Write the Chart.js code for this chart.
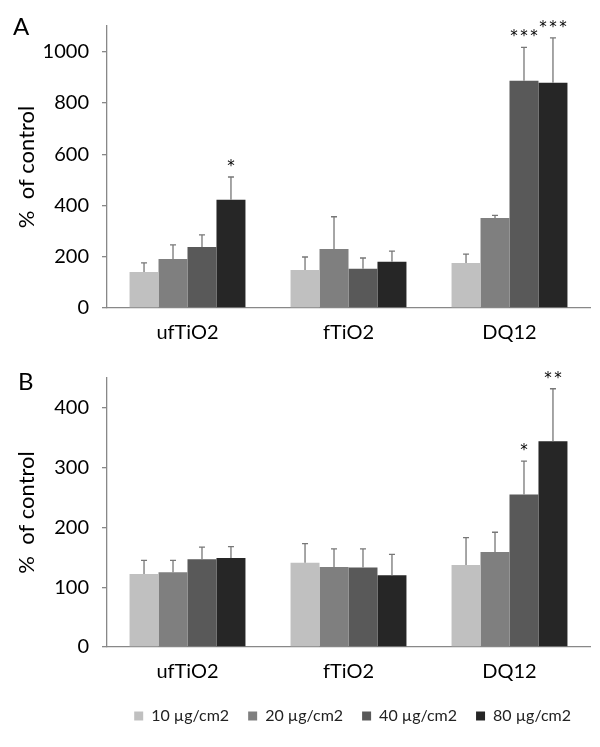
<!DOCTYPE html>
<html>
<head>
<meta charset="utf-8">
<script src="https://cdn.jsdelivr.net/npm/chart.js@4.4.0/dist/chart.umd.min.js"></script>
<style>
  html, body { margin: 0; padding: 0; background: #fff; }
  #wrap { position: relative; width: 600px; height: 747px; font-family: Lato, sans-serif; }
  .box { position: absolute; left: 0; width: 600px; }
  .letter { position: absolute; font-size: 24px; color: #000; }
</style>
</head>
<body>
<div id="wrap">
  <div class="box" style="top:0;height:350px"><canvas id="chartA"></canvas></div>
  <div class="box" style="top:350px;height:397px"><canvas id="chartB"></canvas></div>
  <div class="letter" style="left:13px;top:11px">A</div>
  <div class="letter" style="left:18px;top:366px">B</div>
</div>
<script>
const categories = ['ufTiO2', 'fTiO2', 'DQ12'];
const doses = ['10 µg/cm2', '20 µg/cm2', '40 µg/cm2', '80 µg/cm2'];
const colors = ['#c0c0c0', '#7f7f7f', '#595959', '#262626'];

// panel A
const a10 = [140, 148, 176], a10Err = [36, 51, 34];
const a20 = [191, 230, 351], a20Err = [55, 126, 10];
const a40 = [238, 153, 886], a40Err = [47, 42, 131];
const a80 = [422, 180, 879], a80Err = [89, 42, 175];
const a40Stars = ['', '', '***'];
const a80Stars = ['*', '', '***'];

// panel B
const b10 = [122, 141, 137], b10Err = [23, 32, 46];
const b20 = [125, 134, 159], b20Err = [20, 30, 33];
const b40 = [147, 133, 255], b40Err = [20, 31, 56];
const b80 = [149, 120, 344], b80Err = [19, 35, 88];
const b40Stars = ['', '', '*'];
const b80Stars = ['', '', '**'];

const noStars = ['', '', ''];

// upper error bars + significance stars
const errorBars = {
  id: 'errorBars',
  afterDatasetsDraw(chart) {
    const ctx = chart.ctx;
    const y = chart.scales.y;
    chart.data.datasets.forEach((ds, i) => {
      const meta = chart.getDatasetMeta(i);
      meta.data.forEach((bar, j) => {
        const top = y.getPixelForValue(ds.data[j] + ds.errors[j]);
        ctx.save();
        ctx.strokeStyle = '#777';
        ctx.lineWidth = 1.3;
        ctx.beginPath();
        ctx.moveTo(bar.x, bar.y);
        ctx.lineTo(bar.x, top);
        ctx.moveTo(bar.x - 3, top);
        ctx.lineTo(bar.x + 3, top);
        ctx.stroke();
        const s = ds.stars[j];
        if (s) {
          ctx.fillStyle = '#000';
          ctx.font = '15px "DejaVu Sans"';
          ctx.textAlign = 'center';
          ctx.textBaseline = 'alphabetic';
          const pitch = 10;
          const x0 = bar.x - (s.length - 1) * pitch / 2;
          for (let k = 0; k < s.length; k++) {
            ctx.fillText(s[k], x0 + k * pitch, top - 6);
          }
        }
        ctx.restore();
      });
    });
  }
};

function makeSets(vals, errs, stars) {
  return vals.map((v, i) => ({
    label: doses[i],
    data: v,
    errors: errs[i],
    stars: stars[i],
    backgroundColor: colors[i],
    borderWidth: 0,
    barPercentage: 1,
    categoryPercentage: 0.72
  }));
}

function makeChart(id, sets, max, step, showLegend, pad) {
  return new Chart(document.getElementById(id), {
    type: 'bar',
    data: { labels: categories, datasets: sets },
    options: {
      responsive: true,
      maintainAspectRatio: false,
      animation: false,
      layout: { padding: pad },
      plugins: {
        tooltip: { enabled: false },
        legend: {
          display: showLegend,
          position: 'bottom',
          align: 'end',
          labels: { boxWidth: 9, boxHeight: 9, padding: 19, color: '#222', font: { family: 'Lato', size: 16 } }
        }
      },
      scales: {
        x: {
          afterFit: s => { s.height = 42; },
          grid: { display: false, drawTicks: false },
          border: { color: '#888', width: 1.3 },
          ticks: { color: '#000', padding: 13, font: { family: 'Lato', size: 20 } }
        },
        y: {
          min: 0,
          max: max,
          afterBuildTicks: s => { s.ticks = s.ticks.filter(t => t.value % step === 0 && t.value <= max - step / 2); },
          afterFit: s => { s.width = 93; },
          grid: { drawOnChartArea: false, tickLength: 5, color: '#888', lineWidth: 1.3 },
          border: { color: '#888', width: 1.3 },
          ticks: { stepSize: step, color: '#000', padding: 13, font: { family: 'Lato', size: 20 }, callback: v => String(v) },
          title: { display: true, text: '%  of control', color: '#000', padding: 0, font: { family: 'Lato', size: 22 } }
        }
      }
    },
    plugins: [errorBars]
  });
}

makeChart('chartA',
  makeSets([a10, a20, a40, a80], [a10Err, a20Err, a40Err, a80Err], [noStars, noStars, a40Stars, a80Stars]),
  1100, 200, false, { left: 14, right: 10, top: 26, bottom: 0 });

makeChart('chartB',
  makeSets([b10, b20, b40, b80], [b10Err, b20Err, b40Err, b80Err], [noStars, noStars, b40Stars, b80Stars]),
  450, 100, true, { left: 14, right: 10, top: 28, bottom: 13 });
</script>
</body>
</html>
